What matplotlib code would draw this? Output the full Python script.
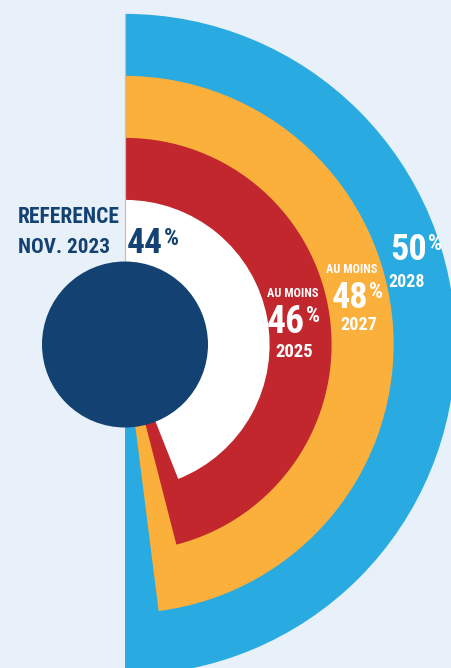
import matplotlib.pyplot as plt
from matplotlib.patches import Wedge, Circle

# data
pcts = [50, 48, 46, 44]
years = ['2028', '2027', '2025', 'NOV. 2023']
prefixes = ['', 'AU MOINS', 'AU MOINS', '']
ref_label = 'REFERENCE'
colors = ['#29aae1', '#fbb03b', '#c1272d', '#ffffff']

BG = '#e8f0f9'
NAVY = '#134272'
plt.rcParams['font.family'] = ['Roboto Condensed', 'Liberation Sans Narrow', 'Roboto', 'DejaVu Sans']

fig = plt.figure(figsize=(4.51, 6.68), dpi=100, facecolor=BG)
ax = fig.add_axes([0, 0, 1, 1])
ax.set_facecolor(BG)
ax.set_xlim(0, 451)
ax.set_ylim(668, 0)  # pixel-like coords, y down
ax.set_aspect('equal')
ax.axis('off')

cx, cy = 125, 344.5
radii = [330.6, 268.6, 206.6, 144.6]

# wedges, clockwise from the top (y axis inverted)
for p, r, c in zip(pcts, radii, colors):
    ax.add_patch(Wedge((cx, cy), r, -90, -90 + 360 * p / 100, facecolor=c, edgecolor='none'))

ax.plot([cx - 0.5, cx - 0.5], [cy - radii[0], cy], color='#c9c2b3', lw=0.9, zorder=3)
ax.add_patch(Circle((cx, cy), 83, facecolor=NAVY, edgecolor='none', zorder=4))

renderer = fig.canvas.get_renderer()


def fit(s, x0, x1, base, maxsize, col):
    # text centred in [x0, x1] on baseline, shrunk to fit the width
    t = ax.text((x0 + x1) / 2, base, s, ha='center', va='baseline', color=col,
                fontsize=maxsize, fontweight='bold', zorder=5)
    w = t.get_window_extent(renderer).width
    if w > (x1 - x0):
        t.set_fontsize(maxsize * (x1 - x0) / w)
    return t


def pct(val, x_right, base, width, size, pct_size, col):
    # big number ending at x_right, with a raised % sign after it (tops aligned)
    t = ax.text(x_right, base, str(val), ha='right', va='baseline', color=col,
                fontsize=size, fontweight='bold', zorder=5)
    w = t.get_window_extent(renderer).width
    if w > width:
        t.set_fontsize(size * width / w)
    fs = t.get_fontsize()
    top = base - fs * 0.99
    ax.text(x_right + 1, top + pct_size * 0.99, '%', ha='left', va='baseline', color=col,
            fontsize=pct_size, fontweight='bold', zorder=5)


# reference label
fit(ref_label, 18, 120, 223, 18, NAVY)
fit(years[3], 18, 110, 253, 18, NAVY)
pct(pcts[3], 163, 253, 36, 30, 17, NAVY)

# blue ring 2028
pct(pcts[0], 427, 260, 42, 26, 16, 'white')
fit(years[0], 389, 425, 287, 14, 'white')

# orange ring 2027
fit(prefixes[1], 326, 377, 273, 12, 'white')
pct(pcts[1], 368, 308, 40, 26, 16, 'white')
fit(years[1], 340, 377, 330, 15, 'white')

# red ring 2025
fit(prefixes[2], 267, 318, 297, 11, 'white')
pct(pcts[2], 305, 333, 38, 30, 16, 'white')
fit(years[2], 275, 313, 357, 15, 'white')

fig.savefig('out.png', dpi=100, facecolor=BG)
